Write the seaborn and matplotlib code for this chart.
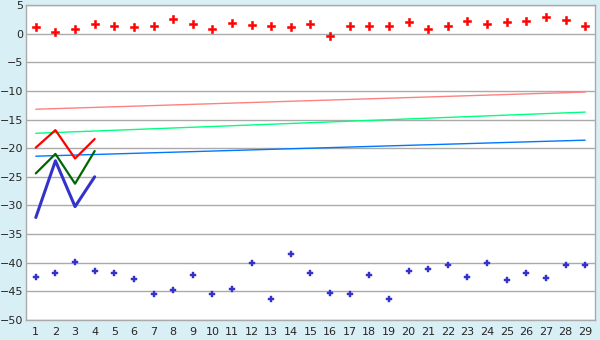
import numpy as np
import pandas as pd
import matplotlib
matplotlib.use("Agg")
import matplotlib.pyplot as plt
import seaborn as sns

# ---- data ----
x_days = list(range(1, 30))
red_points = [1.15, 0.28, 0.8, 1.68, 1.33, 1.15, 1.33, 2.55, 1.68,
              0.8, 1.85, 1.5, 1.33, 1.15, 1.68, -0.42, 1.33, 1.33, 1.33,
              2.03, 0.8, 1.33, 2.2, 1.68, 2.03, 2.2, 2.9, 2.38, 1.33]
blue_points = [-42.55, -41.85, -39.93, -41.5, -41.85, -42.9, -45.5, -44.8, -42.2,
               -45.5, -44.5, -40.1, -46.4, -38.4, -41.85, -45.35, -45.5, -42.2, -46.4,
               -41.5, -41.15, -40.45, -42.55, -40.1, -43.1, -41.85, -42.7, -40.45, -40.45]
short_x = [1, 2, 3, 4]
red_line = [-19.9, -16.85, -21.8, -18.4]
green_line = [-24.4, -21.0, -26.2, -20.5]
blue_line = [-32.1, -22.2, -30.2, -25.0]
trend_x = [1, 29]
salmon_trend = [-13.2, -10.2]
lime_trend = [-17.4, -13.7]
azure_trend = [-21.4, -18.6]
y_ticks = [5, 0, -5, -10, -15, -20, -25, -30, -35, -40, -45, -50]

sns.set_style("white")
plt.rcParams['font.family'] = ['DejaVu Sans']

fig = plt.figure(figsize=(6, 3.4), dpi=100)
fig.patch.set_facecolor('#D9EFF6')
ax = fig.add_axes([26/600, 1-320/340, (595-26)/600, (320-5)/340])
ax.set_facecolor('white')

for ytk in y_ticks:
    ax.axhline(ytk, color='#AAAAAA', lw=1.0, zorder=0)

# trend lines
for vals, col in [(salmon_trend, '#FF8080'), (lime_trend, '#00FF80'), (azure_trend, '#0077FF')]:
    sns.lineplot(x=trend_x, y=vals, ax=ax, color=col, lw=1.0, zorder=2)

# short lines
sns.lineplot(x=short_x, y=blue_line, ax=ax, color='#3333CC', lw=2.2, zorder=3)
sns.lineplot(x=short_x, y=green_line, ax=ax, color='#006600', lw=1.6, zorder=3)
sns.lineplot(x=short_x, y=red_line, ax=ax, color='#FF0000', lw=1.6, zorder=4)

# points
sns.scatterplot(x=x_days, y=red_points, ax=ax, color='#FF0000', marker='P', s=26,
                edgecolor='#FF0000', linewidth=0.4, zorder=5)
sns.scatterplot(x=x_days, y=blue_points, ax=ax, color='#3333CC', marker='P', s=20,
                edgecolor='#3333CC', linewidth=0.3, zorder=5)

ax.set_xlim(0.5, 29.5)
ax.set_ylim(-50, 5)
ax.set_xticks(x_days)
ax.set_xticklabels([str(v) for v in x_days])
ax.set_yticks(y_ticks)
ax.set_yticklabels([str(v).replace('-', '\u2212') for v in y_ticks])
ax.tick_params(axis='x', length=4, width=1, color='#333333', labelsize=8, pad=1)
ax.tick_params(axis='y', length=0, labelsize=8, pad=2)
for sp in ax.spines.values():
    sp.set_color('#AAAAAA')
    sp.set_linewidth(1.0)
ax.set_xlabel('')
ax.set_ylabel('')

fig.savefig('out.png', dpi=100, facecolor=fig.get_facecolor())
